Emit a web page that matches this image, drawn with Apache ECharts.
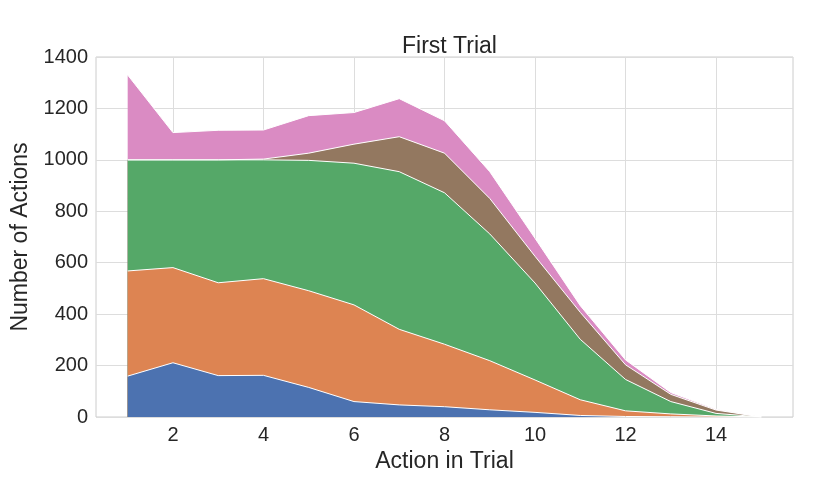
<!DOCTYPE html>
<html>
<head>
<meta charset="utf-8">
<script src="https://cdn.jsdelivr.net/npm/echarts@6/dist/echarts.min.js"></script>
<style>html,body{margin:0;padding:0;background:#fff}#c{width:831px;height:491px}</style>
</head>
<body>
<div id="c"></div>
<script>
const actions = [1,2,3,4,5,6,7,8,9,10,11,12,13,14,15];
const seriesBlue   = [159,211,161,162,115,60,47,40,28,18,6,2,1,0,0];
const seriesOrange = [409,370,361,376,376,376,294,243,191,126,61,22,11,4,0];
const seriesGreen  = [432,419,478,462,507,551,613,589,493,377,235,122,48,10,0];
const seriesBrown  = [0,0,0,3,28,74,136,154,138,104,105,57,28,13,0];
const seriesPink   = [330,106,115,113,146,123,148,126,104,70,26,19,7,3,0];
const xTicks = [2,4,6,8,10,12,14];
const yTicks = [0,200,400,600,800,1000,1200,1400];

const colors = ['#4C72B0','#DD8452','#55A868','#937860','#DA8BC3'];
const all = [seriesBlue, seriesOrange, seriesGreen, seriesBrown, seriesPink];
const font = '"Liberation Sans", Arial, sans-serif';

// cumulative tops (stackplot)
const cum = [];
all.forEach((vals, i) => {
  cum.push(vals.map((v, j) => v + (i > 0 ? cum[i - 1][j] : 0)));
});

// draw from top layer down so lower layers cover upper fills
const series = [];
for (let i = all.length - 1; i >= 0; i--) {
  series.push({
    type: 'line', symbol: 'none', silent: true,
    data: actions.map((x, j) => [x, cum[i][j]]),
    lineStyle: {color: '#ffffff', width: 1},
    areaStyle: {color: colors[i], opacity: 1, origin: 'start'},
    itemStyle: {color: colors[i]}
  });
}

const chart = echarts.init(document.getElementById('c'), null, {renderer:'canvas'});
chart.setOption({
  animation: false,
  title: {
    text: 'First Trial', left: 444.5, top: 30, textAlign: 'center',
    textStyle: {fontFamily: font, fontSize: 23, fontWeight: 'normal', color: '#262626'}
  },
  grid: {left: 96, right: 38, top: 57, bottom: 74, show: true, borderColor: '#cccccc', borderWidth: 1, containLabel: false},
  xAxis: {
    type: 'value', min: 0.3, max: 15.7,
    name: 'Action in Trial', nameLocation: 'middle', nameGap: 30,
    nameTextStyle: {fontFamily: font, fontSize: 23, color: '#262626'},
    axisLine: {show: false},
    axisTick: {show: false, customValues: xTicks},
    axisLabel: {customValues: xTicks, fontFamily: font, fontSize: 20, color: '#262626', margin: 8},
    splitLine: {show: true, lineStyle: {color: '#dddddd', width: 1}}
  },
  yAxis: {
    type: 'value', min: 0, max: 1400, interval: 200,
    name: 'Number of Actions', nameLocation: 'middle', nameGap: 56,
    nameTextStyle: {fontFamily: font, fontSize: 23, color: '#262626'},
    axisLine: {show: false},
    axisTick: {show: false},
    axisLabel: {fontFamily: font, fontSize: 20, color: '#262626', margin: 8, formatter: v => String(v)},
    splitLine: {show: true, lineStyle: {color: '#dddddd', width: 1}}
  },
  series: series
});
</script>
</body>
</html>
